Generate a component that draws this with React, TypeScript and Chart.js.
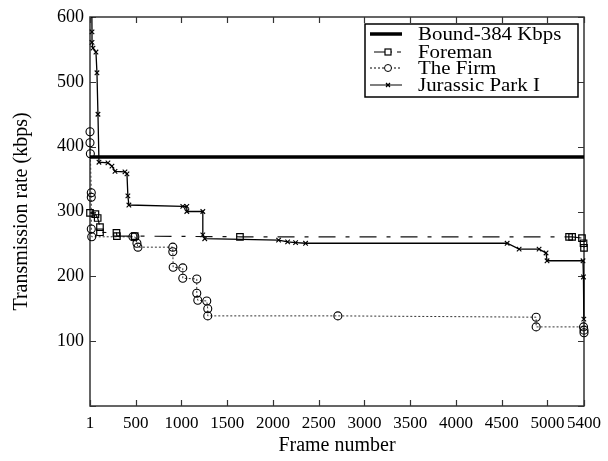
import React, { useEffect, useRef } from "react";
import { Chart, registerables } from "chart.js";

Chart.register(...registerables);

const xTickValues = [1, 500, 1000, 1500, 2000, 2500, 3000, 3500, 4000, 4500, 5000, 5400];
const yTickValues = [0, 100, 200, 300, 400, 500, 600];

const seriesNames = ["Bound-384 Kbps", "Foreman", "The Firm", "Jurassic Park I"];

const boundFrames = [1, 5400];
const boundValues = [384, 384];

const foremanFrames = [1, 60, 85, 110, 110, 290, 295, 490, 1640, 5237, 5270, 5378, 5395, 5400];
const foremanValues = [298, 296, 290, 276, 268, 267, 262, 262, 261, 261, 261, 259, 251, 244];

const firmFrames = [1, 1, 5, 15, 15, 15, 20, 470, 492, 514, 525, 906, 906, 910, 1015, 1015, 1168, 1168, 1179, 1277, 1288, 1288, 2710, 4877, 4877, 5395, 5400, 5400];
const firmValues = [423, 406, 389, 329, 322, 273, 261, 261, 261, 251, 245, 245, 238, 214, 213, 197, 196, 174, 163, 162, 150, 139, 139, 137, 122, 122, 117, 113];

const jurassicFrames = [20, 23, 23, 34, 66, 77, 88, 99, 197, 241, 274, 383, 405, 415, 426, 1015, 1059, 1059, 1234, 1234, 1255, 2062, 2161, 2248, 2357, 4560, 4691, 4909, 4985, 4996, 5389, 5394, 5398];
const jurassicValues = [625, 577, 561, 552, 546, 514, 450, 376, 375, 370, 362, 361, 358, 324, 310, 308, 308, 300, 300, 264, 258, 256, 253, 252, 251, 251, 242, 242, 236, 224, 224, 199, 134];

const FONT = "'Liberation Serif', 'Times New Roman', serif";
const foremanDash = [17, 10, 4, 10];
const firmDash = [2, 2];

function pts(xs: number[], ys: number[]) {
  return xs.map((x, i) => ({ x, y: ys[i] }));
}

const framePlugin = {
  id: "gnuframe",
  beforeDatasetsDraw(chart: any) {
    const { ctx, chartArea } = chart;
    const { left, right, top, bottom } = chartArea;
    ctx.save();
    ctx.strokeStyle = "#333";
    ctx.lineWidth = 1.5;
    ctx.strokeRect(left, top, right - left, bottom - top);
    const xs = chart.scales.x;
    const ys = chart.scales.y;
    const L = 6;
    ctx.lineWidth = 1.2;
    ctx.beginPath();
    xTickValues.forEach((v) => {
      const px = Math.round(xs.getPixelForValue(v)) + 0.5;
      ctx.moveTo(px, bottom);
      ctx.lineTo(px, bottom - L);
      ctx.moveTo(px, top);
      ctx.lineTo(px, top + L);
    });
    yTickValues.forEach((v) => {
      const py = Math.round(ys.getPixelForValue(v)) + 0.5;
      ctx.moveTo(left, py);
      ctx.lineTo(left + L, py);
      ctx.moveTo(right, py);
      ctx.lineTo(right - L, py);
    });
    ctx.stroke();
    ctx.restore();
  },
  afterDatasetsDraw(chart: any) {
    const { ctx } = chart;
    ctx.save();
    const bx = 365, by = 24, bw = 213, bh = 73;
    ctx.fillStyle = "#fff";
    ctx.fillRect(bx, by, bw, bh);
    ctx.strokeStyle = "#000";
    ctx.lineWidth = 1.5;
    ctx.strokeRect(bx, by, bw, bh);
    const rows = [34, 52, 68, 85];
    const x0 = 370, x1 = 402, xm = 388;
    ctx.font = `19px ${FONT}`;
    ctx.textBaseline = "middle";
    ctx.textAlign = "left";
    ctx.fillStyle = "#000";
    rows.forEach((ry, i) => {
      ctx.save();
      ctx.translate(418, ry + 1);
      ctx.scale(1.1, 1);
      ctx.fillText(seriesNames[i], 0, 0);
      ctx.restore();
    });
    // Bound
    ctx.beginPath();
    ctx.lineWidth = 3.5;
    ctx.moveTo(x0, rows[0]);
    ctx.lineTo(x1, rows[0]);
    ctx.stroke();
    // Foreman
    ctx.lineWidth = 1.2;
    ctx.setLineDash([]);
    ctx.beginPath();
    ctx.moveTo(374, rows[1]);
    ctx.lineTo(392, rows[1]);
    ctx.moveTo(397, rows[1]);
    ctx.lineTo(401, rows[1]);
    ctx.stroke();
    ctx.fillStyle = "#fff";
    ctx.fillRect(xm - 3, rows[1] - 3, 6, 6);
    ctx.strokeRect(xm - 3, rows[1] - 3, 6, 6);
    // Firm
    ctx.setLineDash(firmDash);
    ctx.lineWidth = 1;
    ctx.beginPath();
    ctx.moveTo(x0, rows[2]);
    ctx.lineTo(x1, rows[2]);
    ctx.stroke();
    ctx.setLineDash([]);
    ctx.fillStyle = "#fff";
    ctx.beginPath();
    ctx.arc(xm, rows[2], 3.5, 0, Math.PI * 2);
    ctx.fill();
    ctx.stroke();
    // Jurassic
    ctx.lineWidth = 1.2;
    ctx.beginPath();
    ctx.moveTo(x0, rows[3]);
    ctx.lineTo(x1, rows[3]);
    ctx.moveTo(xm - 2, rows[3] - 2);
    ctx.lineTo(xm + 2, rows[3] + 2);
    ctx.moveTo(xm - 2, rows[3] + 2);
    ctx.lineTo(xm + 2, rows[3] - 2);
    ctx.stroke();
    ctx.restore();
  },
};

export default function App() {
  const ref = useRef<HTMLCanvasElement | null>(null);
  useEffect(() => {
    document.body.style.margin = "0";
    const canvas = ref.current;
    if (!canvas) return;
    const chart = new Chart(canvas, {
      type: "scatter",
      data: {
        datasets: [
          {
            label: seriesNames[0],
            data: pts(boundFrames, boundValues),
            showLine: true,
            borderColor: "#000",
            borderWidth: 3.5,
            pointRadius: 0,
            clip: 0,
          },
          {
            label: seriesNames[1],
            data: pts(foremanFrames, foremanValues),
            showLine: true,
            borderColor: "#111",
            borderWidth: 1.2,
            borderDash: foremanDash,
            pointStyle: "rect",
            pointRadius: 4.6,
            pointBorderWidth: 1.2,
            pointBorderColor: "#000",
            pointBackgroundColor: "rgba(0,0,0,0)",
            clip: 6,
          },
          {
            label: seriesNames[2],
            data: pts(firmFrames, firmValues),
            showLine: true,
            borderColor: "#333",
            borderWidth: 1,
            borderDash: firmDash,
            pointStyle: "circle",
            pointRadius: 4,
            pointBorderWidth: 1.1,
            pointBorderColor: "#000",
            pointBackgroundColor: "rgba(0,0,0,0)",
            clip: 6,
          },
          {
            label: seriesNames[3],
            data: pts(jurassicFrames, jurassicValues),
            showLine: true,
            borderColor: "#000",
            borderWidth: 1.3,
            pointStyle: "crossRot",
            pointRadius: 3.2,
            pointBorderWidth: 1.1,
            pointBorderColor: "#000",
            clip: { left: 6, right: 6, top: 0, bottom: 6 },
          },
        ],
      },
      options: {
        animation: false,
        responsive: false,
        maintainAspectRatio: false,
        layout: { padding: { top: 17, right: 23, left: 0, bottom: 0 } },
        plugins: {
          legend: { display: false },
          tooltip: { enabled: false },
        },
        scales: {
          x: {
            type: "linear",
            min: 1,
            max: 5400,
            grid: { display: false, drawTicks: false },
            border: { display: false },
            afterBuildTicks: (scale: any) => {
              scale.ticks = xTickValues.map((v) => ({ value: v }));
            },
            afterFit: (scale: any) => {
              scale.height = 55;
            },
            ticks: {
              padding: 7,
              maxRotation: 0,
              autoSkip: false,
              color: "#000",
              font: { family: FONT, size: 17 },
              callback: (v: any) => String(v),
            },
            title: {
              display: true,
              text: "Frame number",
              color: "#000",
              font: { family: FONT, size: 20 },
              padding: { top: 0, bottom: 3 },
            },
          },
          y: {
            type: "linear",
            min: 0,
            max: 600,
            grid: { display: false, drawTicks: false },
            border: { display: false },
            afterBuildTicks: (scale: any) => {
              scale.ticks = yTickValues.map((v) => ({ value: v }));
            },
            afterFit: (scale: any) => {
              scale.width = 90;
            },
            ticks: {
              padding: 6,
              color: "#000",
              font: { family: FONT, size: 18 },
              callback: (v: any) => (v === 0 ? "" : String(v)),
            },
            title: {
              display: true,
              text: "Transmission rate (kbps)",
              color: "#000",
              font: { family: FONT, size: 20 },
              padding: { top: 10, bottom: 0 },
            },
          },
        },
      },
      plugins: [framePlugin],
    } as any);
    return () => chart.destroy();
  }, []);
  return (
    <div style={{ position: "absolute", left: 0, top: 0, width: 608, height: 461, background: "#fff" }}>
      <canvas ref={ref} width={608} height={461} />
    </div>
  );
}
